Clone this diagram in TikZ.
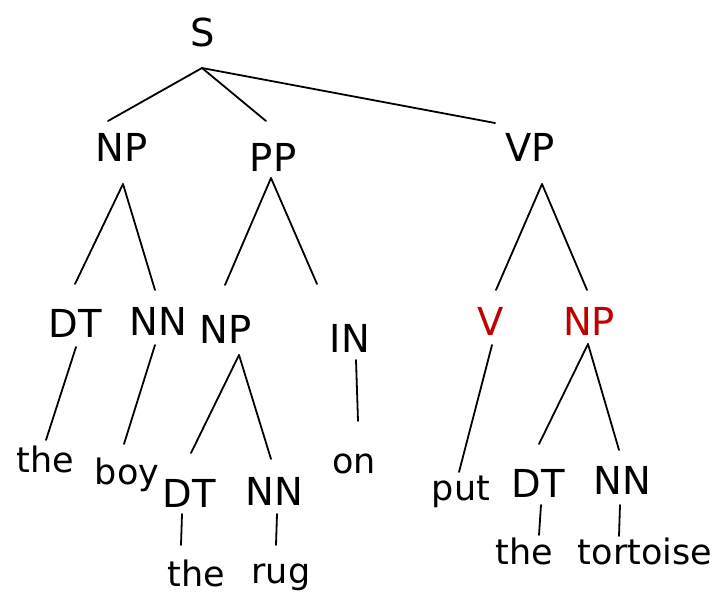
\documentclass[tikz,border=0pt]{standalone}
\usepackage{fontspec}
\setmainfont{DejaVu Sans}
\definecolor{hlred}{HTML}{C00000}
\tikzset{
  lab/.style={anchor=base, inner sep=0pt, font=\fontsize{38.5}{40}\selectfont},
  word/.style={anchor=base, inner sep=0pt, font=\fontsize{35}{36}\selectfont},
  hl/.style={text=hlred},
  edge/.style={line width=1.8pt, line cap=round}
}
\begin{document}
\begin{tikzpicture}[x=1pt,y=-1pt]
\useasboundingbox (0,0) rectangle (719,593);
% labels
\node[lab] (S) at (202.5,47) {S};
\node[lab] (NPa) at (122,162) {NP};
\node[lab] (PP) at (273,172) {PP};
\node[lab] (VP) at (530,162) {VP};
\node[lab] (DTa) at (75,337) {DT};
\node[lab] (NNa) at (158,335) {NN};
\node[lab] (NPb) at (226,343) {NP};
\node[lab] (IN) at (350,352) {IN};
\node[lab,hl] (V) at (491,335) {V};
\node[lab,hl] (NPc) at (589,335) {NP};
\node[lab] (DTb) at (189,507) {DT};
\node[lab] (NNb) at (274,505) {NN};
\node[lab] (DTc) at (538,497) {DT};
\node[lab] (NNc) at (622,494) {NN};
% words
\node[word] (the1) at (45,472) {the};
\node[word] (boy) at (127,484) {boy};
\node[word] (on) at (354,473) {on};
\node[word] (put) at (461,500) {put};
\node[word] (the2) at (196,586) {the};
\node[word] (rug) at (281,583) {rug};
\node[word] (the3) at (524,564) {the};
\node[word] (tort) at (645,564) {tortoise};
% connector end points
\coordinate (S-b) at (202,68);
\coordinate (NPa-t) at (108,121);
\coordinate (PP-t) at (266,121);
\coordinate (VP-t) at (495,123);
\coordinate (NPa-b) at (123,184);
\coordinate (DTa-t) at (75,284);
\coordinate (NNa-t) at (155,290);
\coordinate (PP-b) at (271,178);
\coordinate (NPb-t) at (225,285);
\coordinate (IN-t) at (317,284);
\coordinate (VP-b) at (542,184);
\coordinate (V-t) at (496,290);
\coordinate (NPc-t) at (587,290);
\coordinate (DTa-b) at (76,347);
\coordinate (the1-t) at (46,440);
\coordinate (NNa-b) at (155,345);
\coordinate (boy-t) at (124,444);
\coordinate (NPb-b) at (239,355);
\coordinate (DTb-t) at (191,453);
\coordinate (NNb-t) at (271,459);
\coordinate (IN-b) at (356,360);
\coordinate (on-t) at (358,421);
\coordinate (DTb-b) at (182,514);
\coordinate (the2-t) at (181,545);
\coordinate (NNb-b) at (277,514);
\coordinate (rug-t) at (276,545);
\coordinate (V-b) at (492,345);
\coordinate (put-t) at (459,472);
\coordinate (NPc-b) at (588,344);
\coordinate (DTc-t) at (539,444);
\coordinate (NNc-t) at (619,450);
\coordinate (DTc-b) at (541,505);
\coordinate (the3-t) at (539,535);
\coordinate (NNc-b) at (620,505);
\coordinate (tort-t) at (619,536);
% connectors
\draw[edge] (S-b) -- (NPa-t);
\draw[edge] (S-b) -- (PP-t);
\draw[edge] (S-b) -- (VP-t);
\draw[edge] (NPa-b) -- (DTa-t);
\draw[edge] (NPa-b) -- (NNa-t);
\draw[edge] (PP-b) -- (NPb-t);
\draw[edge] (PP-b) -- (IN-t);
\draw[edge] (VP-b) -- (V-t);
\draw[edge] (VP-b) -- (NPc-t);
\draw[edge] (DTa-b) -- (the1-t);
\draw[edge] (NNa-b) -- (boy-t);
\draw[edge] (NPb-b) -- (DTb-t);
\draw[edge] (NPb-b) -- (NNb-t);
\draw[edge] (IN-b) -- (on-t);
\draw[edge] (DTb-b) -- (the2-t);
\draw[edge] (NNb-b) -- (rug-t);
\draw[edge] (V-b) -- (put-t);
\draw[edge] (NPc-b) -- (DTc-t);
\draw[edge] (NPc-b) -- (NNc-t);
\draw[edge] (DTc-b) -- (the3-t);
\draw[edge] (NNc-b) -- (tort-t);
\end{tikzpicture}
\end{document}
